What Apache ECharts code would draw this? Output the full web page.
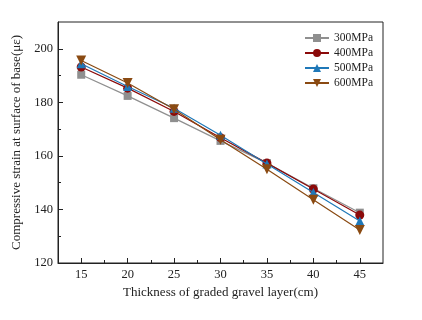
<!DOCTYPE html>
<html><head><meta charset="utf-8">
<script src="https://cdn.jsdelivr.net/npm/echarts@6/dist/echarts.min.js"></script>
<style>html,body{margin:0;padding:0;background:#fff}#c{width:422px;height:320px}</style>
</head><body><div id="c"></div>
<script>
const thickness = [15, 20, 25, 30, 35, 40, 45];
const s300 = [190.3, 182.4, 174.1, 165.6, 157.3, 147.9, 138.8];
const s400 = [193.2, 185.3, 176.6, 166.8, 157.3, 147.6, 137.9];
const s500 = [194.4, 185.9, 177.8, 167.7, 157.0, 146.3, 135.7];
const s600 = [195.6, 187.2, 177.4, 166.0, 155.0, 143.6, 132.3];
const seriesNames = ['300MPa', '400MPa', '500MPa', '600MPa'];
const xMajor = [15, 20, 25, 30, 35, 40, 45];
const xMinor = [17.5, 22.5, 27.5, 32.5, 37.5, 42.5];
const yMajor = [120, 140, 160, 180, 200];
const yMinor = [130, 150, 170, 190];

const font = '"Liberation Serif", "Times New Roman", serif';
const colors = ['#8f8f8f', '#8b0a0a', '#1f78b8', '#8a4a12'];
const symbols = ['rect', 'circle', 'triangle', 'path://M0,0 L10,0 L5,9 Z'];
const sizes = [8, 9, 9, 10];
const data = [s300, s400, s500, s600];

const chart = echarts.init(document.getElementById('c'));
chart.setOption({
  animation: false,
  grid: { left: 58, right: 39, top: 22, bottom: 57, show: true, borderColor: '#222', borderWidth: 1 },
  legend: {
    orient: 'vertical', right: 44, top: 27, itemWidth: 24, itemHeight: 10, itemGap: 3,
    textStyle: { fontFamily: font, fontSize: 11.5, color: '#222' },
    data: seriesNames
  },
  xAxis: [{
    type: 'value', min: 12.5, max: 47.5,
    name: 'Thickness of graded gravel layer(cm)', nameLocation: 'middle', nameGap: 22,
    nameTextStyle: { fontFamily: font, fontSize: 13, color: '#222' },
    axisLine: { lineStyle: { color: '#222' } },
    axisTick: { inside: true, length: 5, customValues: xMajor, lineStyle: { color: '#222' } },
    axisLabel: { customValues: xMajor, fontFamily: font, fontSize: 12.5, color: '#222', margin: 5 },
    splitLine: { show: false }
  }, {
    type: 'value', min: 12.5, max: 47.5, position: 'bottom',
    axisLine: { show: false },
    axisTick: { inside: true, length: 3, customValues: xMinor, lineStyle: { color: '#222' } },
    axisLabel: { show: false },
    splitLine: { show: false }
  }],
  yAxis: [{
    type: 'value', min: 120, max: 210,
    name: 'Compressive strain at surface of base(με)', nameLocation: 'middle', nameGap: 32,
    nameTextStyle: { fontFamily: font, fontSize: 13, color: '#222' },
    axisLine: { show: true, lineStyle: { color: '#222' } },
    axisTick: { inside: true, length: 5, customValues: yMajor, lineStyle: { color: '#222' } },
    axisLabel: { customValues: yMajor, fontFamily: font, fontSize: 12.5, color: '#222', margin: 5 },
    splitLine: { show: false }
  }, {
    type: 'value', min: 120, max: 210, position: 'left',
    axisLine: { show: false },
    axisTick: { inside: true, length: 3, customValues: yMinor, lineStyle: { color: '#222' } },
    axisLabel: { show: false },
    splitLine: { show: false }
  }],
  series: seriesNames.map((n, i) => ({
    name: n, type: 'line',
    data: thickness.map((t, j) => [t, data[i][j]]),
    symbol: symbols[i], symbolSize: sizes[i], showSymbol: true,
    itemStyle: { color: colors[i] },
    lineStyle: { color: colors[i], width: 1.2 },
    z: 2 + i
  }))
});
</script></body></html>
